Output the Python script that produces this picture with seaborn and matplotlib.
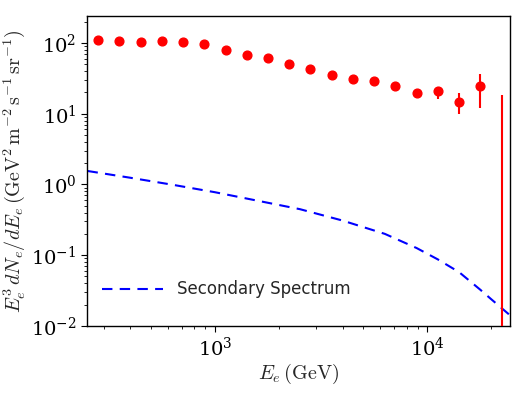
import numpy as np
import matplotlib
import matplotlib.pyplot as plt
import seaborn as sns

sns.set_style('ticks')
matplotlib.rcParams['mathtext.fontset'] = 'cm'
matplotlib.rcParams['font.family'] = ['DejaVu Serif']
matplotlib.rcParams['axes.unicode_minus'] = False

# measured electron spectrum (points)
energy = [282, 355, 447, 562, 708, 891, 1122, 1413, 1778, 2239,
          2818, 3548, 4467, 5623, 7079, 8913, 11220, 14125, 17783, 22387]
flux = [109, 106, 105, 107, 104, 98, 80, 67, 61, 50,
        43, 35, 30.5, 29, 24.3, 19.8, 20.8, 14.6, 24.3, 1e-3]
flux_lo = [2, 2, 2, 2, 2, 2, 2, 2, 2, 2,
           1.5, 1.5, 1.5, 1.5, 1.5, 1.5, 4.7, 4.8, 12.3, 0]
flux_hi = [2, 2, 2, 2, 2, 2, 2, 2, 2, 2,
           1.5, 1.5, 1.5, 1.5, 1.5, 1.5, 3.0, 4.9, 11.7, 18.2]

# secondary spectrum (dashed curve)
sec_energy = [251, 398, 631, 1000, 1585, 2512, 3981, 6310, 8913,
              11220, 14125, 17783, 19953, 24547]
sec_flux = [1.55, 1.245, 0.99, 0.776, 0.589, 0.447, 0.309, 0.20, 0.126,
            0.087, 0.0575, 0.0324, 0.024, 0.0141]

fig = plt.figure(figsize=(5.26, 3.94), dpi=100)
ax = fig.add_axes([0.165, 0.173, 0.805, 0.786])

ax.errorbar(energy, flux, yerr=[flux_lo, flux_hi], fmt='o', color='red',
            ms=6.3, elinewidth=1.5, capsize=0, zorder=3)
sns.lineplot(x=sec_energy, y=sec_flux, ax=ax, color='blue', lw=1.5,
             linestyle=(0, (5, 3.5)), label='Secondary Spectrum')

ax.set_xscale('log')
ax.set_yscale('log')
ax.set_xlim(249, 24600)
ax.set_ylim(0.01, 240)
for s in ax.spines.values():
    s.set_color('black')
    s.set_linewidth(1.0)
ax.tick_params(which='both', direction='out', colors='black', labelsize=14)
ax.tick_params(which='major', length=4)
ax.tick_params(which='minor', length=2.5)

ax.set_xlabel(r'$E_e\,(\mathrm{GeV})$', fontsize=14.5, labelpad=2)
ax.set_ylabel(r'$E_e^3\,dN_e/dE_e\,(\mathrm{GeV}^2\,\mathrm{m}^{-2}\,\mathrm{s}^{-1}\,\mathrm{sr}^{-1})$',
              fontsize=14.5, labelpad=3)

ax.legend(loc='lower left', frameon=False, handlelength=3.7,
          prop={'family': 'DejaVu Sans', 'size': 12},
          bbox_to_anchor=(0.0, 0.04))

fig.savefig('out.png', dpi=100)
